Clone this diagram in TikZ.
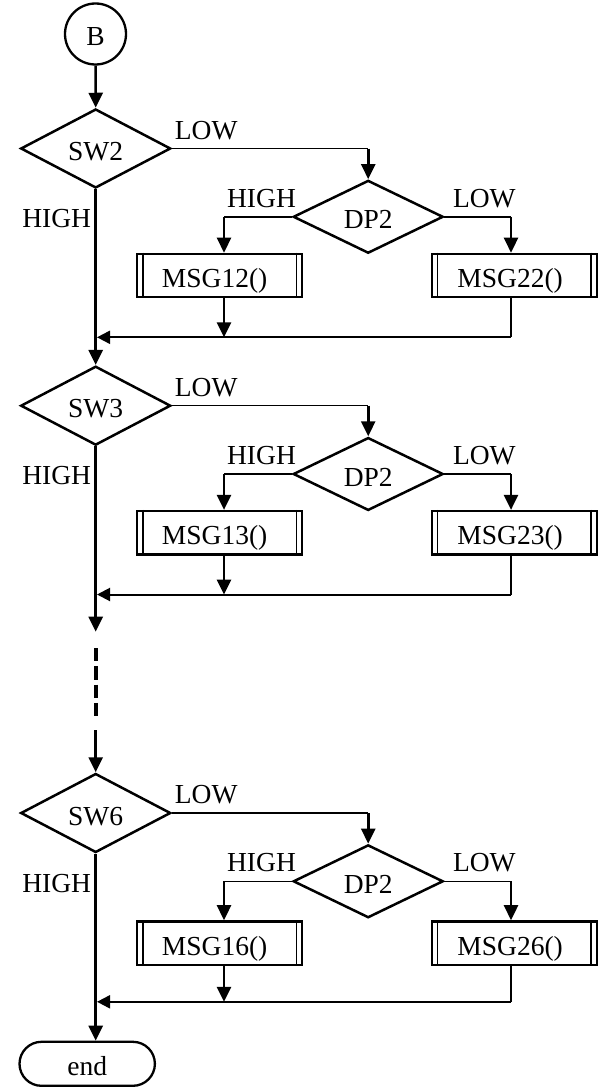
\documentclass[tikz,border=0pt]{standalone}
\usepackage{fontspec}
\setmainfont{Liberation Serif}
\usetikzlibrary{arrows.meta,shapes.geometric,shapes.misc,calc}
\tikzset{
  every node/.style={font=\fontsize{27.5}{31}\selectfont, inner sep=0pt},
  shp/.style={text height=24pt, text depth=0pt},
  lbl/.style={text height=18pt, text depth=0pt},
  dec/.style={shp, diamond, draw, line width=2.5pt, minimum width=150pt, minimum height=59pt},
  subbox/.style={shp, rectangle, draw, line width=2.3pt, minimum width=165pt, minimum height=43.3pt},
  innerl/.style={line width=1.6pt},
  thickl/.style={line width=2.6pt},
  thinl/.style={line width=1.5pt},
  midl/.style={line width=2pt},
  arr/.style={-{Triangle[length=15pt,width=14pt]}},
  arrl/.style={-{Triangle[length=13pt,width=13pt]}},
}
\newcommand\fcblock[6]{%
  \node[dec] (sw#2) at (95.7,{148.5+#1}) {#3};
  \node[lbl] (swlow#2) at (206.2,{130.3+#1}) {LOW};
  \node[lbl] (swhigh#2) at (56.7,{218.5+#1}) {HIGH};
  \node[dec] (dp#2) at (368.2,{216.8+#1}) {DP2};
  \node[lbl] (dphigh#2) at (261.5,{198.3+#1}) {HIGH};
  \node[lbl] (dplow#2) at (484.3,{198.3+#1}) {LOW};
  \node[subbox] (ma#2) at (219.7,{275.5+#1+#6}) {\hspace*{-10pt}#4};
  \node[subbox] (mb#2) at (514.2,{275.5+#1+#6}) {\hspace*{-8pt}#5};
  \coordinate (ax#2) at (224,{275.5+#1});
  \coordinate (bx#2) at (511,{275.5+#1});
  \coordinate (mrg#2) at (95.7,{337.3+#1});
  \draw[innerl] ([xshift=7pt]ma#2.north west) -- ([xshift=7pt]ma#2.south west);
  \draw[innerl] ([xshift=-7pt]ma#2.north east) -- ([xshift=-7pt]ma#2.south east);
  \draw[innerl] ([xshift=7pt]mb#2.north west) -- ([xshift=7pt]mb#2.south west);
  \draw[innerl] ([xshift=-7pt]mb#2.north east) -- ([xshift=-7pt]mb#2.south east);
  \draw[thinl] (sw#2.east) -- (sw#2.east -| dp#2.north);
  \draw[thickl,arr] (sw#2.east -| dp#2.north) -- (dp#2.north);
  \draw[thinl] (dp#2.west) -- (dp#2.west -| ax#2);
  \draw[thickl,arr] (dp#2.west -| ax#2) -- (ax#2 |- ma#2.north);
  \draw[thinl] (dp#2.east) -- (dp#2.east -| bx#2);
  \draw[thickl,arr] (dp#2.east -| bx#2) -- (bx#2 |- mb#2.north);
  \draw[thickl,arr] (ax#2 |- ma#2.south) -- (ax#2 |- mrg#2);
  \draw[thinl] (bx#2 |- mb#2.south) -- (bx#2 |- mrg#2);
  \draw[midl,arrl] (bx#2 |- mrg#2) -- ([xshift=1.3pt]mrg#2);
  \draw[thickl] (sw#2.south) -- (mrg#2);
}
\begin{document}
\begin{tikzpicture}[x=1pt,y=-1pt]
  \useasboundingbox (0,0) rectangle (603,1089);
  \node[shp, circle, draw, line width=2.3pt, minimum size=61pt] (B) at (95.5,34) {B};
  \fcblock{0}{1}{SW2}{MSG12()}{MSG22()}{0}
  \fcblock{257.2}{2}{SW3}{MSG13()}{MSG23()}{0}
  \fcblock{664.5}{3}{SW6}{MSG16()}{MSG26()}{3}
  \node[shp, rounded rectangle, draw, line width=2.3pt, minimum width=135.4pt, minimum height=44pt] (end) at (87.2,1063.8) {end};
  \coordinate (dd1) at (95.7,631.7);
  \coordinate (dd2) at (95.7,648);
  \coordinate (dd3) at (95.7,716.7);
  \coordinate (dd4) at (95.7,730);
  \draw[thickl,arr] (B) -- (sw1.north);
  \draw[thickl,arr] (mrg1) -- (sw2.north);
  \draw[thickl,arr] (mrg2) -- (dd1);
  \draw[line width=4pt, dash pattern=on 13.3pt off 5pt] (dd2) -- (dd3);
  \draw[thickl,arr] (dd4) -- (sw3.north);
  \draw[thickl,arr] (mrg3) -- (mrg3 |- end.north);
\end{tikzpicture}
\end{document}
